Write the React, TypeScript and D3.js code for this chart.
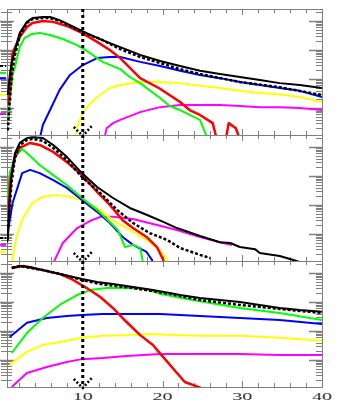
import React from "react";
import * as d3 from "d3";

type Pt = [number, number];

// x axis: ticks every 2, labels every 10, dotted cut at x = 10
const xTicks = d3.range(2, 40, 2);
const xLabels = [10, 20, 30, 40];
const cutX = 10;

// ---- top panel ----
const p1Black: Pt[] = [[0.6,2.8],[0.85,13.8],[1.1,38.9],[1.5,100],[2.1,389],[3.0,933],[3.7,1259],[5.0,1380],[5.9,1380],[7.1,1072],[8.4,724],[9.9,457],[11.3,302],[13.0,191],[14.7,126],[17.2,67.6],[19.7,41.7],[22.2,28.2],[24.7,19.1],[27.2,14.8],[29.7,11.7],[32.2,9.3],[34.7,7.2],[37.2,6.2],[40,4.9]];
const p1Dashed: Pt[] = [[0.6,0.17],[0.85,1.9],[1.1,13.8],[1.5,67.6],[2.1,302],[3.0,851],[3.7,1175],[5.0,1259],[5.9,1259],[7.1,1000],[8.4,676],[9.9,417],[12.2,240],[14.7,107],[17.2,57.5],[19.7,35.5],[22.2,21.9],[24.7,14.8],[29.7,7.9],[34.7,5.2],[40,2.8]];
const p1Red: Pt[] = [[0.7,1.26],[1.0,13.8],[1.2,79],[2.1,282],[3.0,617],[3.7,851],[5.0,1000],[6.3,933],[8.0,676],[9.9,389],[11.8,191],[13.4,100],[14.7,52.5],[17.2,10.7],[19.7,4.6],[22.2,1.6],[23.4,0.85],[24.7,0.575],[26.3,0.3],[27.0,0.05],[27.8,0.05],[28.3,0.3],[29.2,0.2],[30.0,0.05]];
const p1Green: Pt[] = [[0.6,0.39],[1.0,4.2],[1.2,13.8],[1.5,25.7],[2.1,126],[2.7,257],[3.6,355],[4.6,389],[5.9,331],[7.5,240],[9.3,148],[10.9,79],[12.5,38.9],[14.7,21.9],[15.9,11.7],[17.2,7.2],[19.7,2.2],[20.9,1.17],[22.2,0.85],[23.4,0.575],[24.7,0.39],[26.0,0.05]];
const p1Blue: Pt[] = [[4.4,0.05],[5.0,0.26],[5.9,0.85],[7.1,4.2],[8.4,13.8],[10.0,30.2],[11.8,52.5],[13.4,57.5],[14.7,57.5],[17.2,38.9],[19.7,28.2],[22.2,19.1],[24.7,13.8],[27.2,10.7],[29.7,7.9],[32.2,6.2],[34.7,4.9],[37.2,3.9],[40,2.4]];
const p1Yellow: Pt[] = [[8.8,0.05],[9.4,0.26],[10.0,0.68],[10.9,1.38],[11.8,2.4],[13.4,4.9],[14.7,6.2],[17.2,7.9],[19.7,7.9],[22.2,7.2],[24.7,5.8],[27.2,4.9],[29.7,3.9],[32.2,3.3],[34.7,3.0],[37.2,2.4],[40,1.6]];
const p1Magenta: Pt[] = [[12.5,0.05],[13.0,0.2],[13.8,0.3],[14.7,0.39],[17.2,0.72],[19.7,1.07],[22.2,1.26],[24.7,1.26],[27.2,1.26],[29.7,1.17],[32.2,1.07],[34.7,1.07],[37.2,1.0],[40,0.85]];
const p1Marks = [{ key: "black", v: 28.2 }, { key: "green", v: 16.2 }, { key: "blue", v: 10.7 }, { key: "yellow", v: 2.8 }, { key: "magenta", v: 0.62 }];

// ---- middle panel ----
const p2Black: Pt[] = [[0.6,0.62],[0.85,19.1],[1.1,126],[1.5,617],[2.1,1380],[3.0,2042],[3.7,2188],[5.0,2042],[6.3,1175],[8.0,457],[9.9,126],[11.8,41.7],[13.8,17.4],[15.9,7.9],[18.0,4.6],[20.1,2.6],[21.8,1.6],[24.7,0.85],[27.2,0.52],[28.5,0.49],[29.7,0.355],[31.6,0.3],[32.2,0.22],[34.7,0.174],[36.4,0.126],[37.6,0.1]];
const p2Dashed: Pt[] = [[0.5,0.52],[0.85,10],[1.1,72],[1.5,417],[2.1,1175],[3.0,1738],[3.7,1905],[5.0,1622],[6.3,933],[8.0,355],[9.9,93],[12.2,25.7],[14.3,6.8],[16.3,2.4],[18.4,1.07],[20.6,0.62],[22.2,0.33],[24.7,0.19],[26.0,0.148]];
const p2Red: Pt[] = [[0.7,4.6],[0.85,57.5],[1.5,457],[2.1,933],[3.4,1380],[4.6,1175],[6.3,676],[8.0,302],[9.9,107],[11.8,28.2],[13.4,10],[15.0,3.0],[16.3,1.6],[18.0,0.79],[19.3,0.355],[20.1,0.126],[20.3,0.08]];
const p2Green: Pt[] = [[0.5,19.1],[0.85,126],[1.5,457],[2.4,851],[3.0,617],[4.6,240],[6.3,107],[8.0,49],[9.9,17.4],[11.8,6.8],[13.4,2.6],[14.4,1.38],[15.3,0.355],[16.3,0.42],[17.2,0.33],[17.5,0.126],[17.7,0.08]];
const p2Blue: Pt[] = [[0.5,0.79],[1.2,11.7],[2.4,126],[3.4,162],[4.6,126],[6.3,72],[8.0,38.9],[9.9,14.8],[11.8,5.8],[13.4,2.4],[15.0,0.79],[16.3,0.42],[18.0,0.24],[18.7,0.126],[18.8,0.08]];
const p2Yellow: Pt[] = [[1.1,0.1],[1.7,0.79],[2.5,3.5],[3.7,11.7],[5.0,19.1],[6.8,21.9],[8.4,19.1],[9.9,14.8],[11.8,7.9],[13.8,3.0],[15.9,1.38],[18.0,0.62],[19.7,0.28],[20.6,0.126],[20.7,0.08]];
const p2Magenta: Pt[] = [[6.3,0.1],[6.8,0.19],[7.5,0.49],[9.3,1.6],[10.9,2.8],[12.2,3.9],[13.8,3.9],[16.3,3.3],[18.8,2.2],[21.8,1.38],[24.7,0.79],[27.2,0.52],[28.7,0.42]];
const p2Marks = [{ key: "black", v: 0.72 }, { key: "magenta", v: 0.42 }, { key: "yellow", v: 0.24 }];

// ---- bottom panel ----
const p3Black: Pt[] = [[1.1,1479],[2.1,1738],[3.4,1622],[5.0,1259],[7.1,933],[9.9,617],[11.8,490],[13.8,417],[16.3,331],[18.8,257],[20.9,204],[22.2,174],[24.7,138],[27.2,117],[29.7,100],[32.2,79],[34.7,61.7],[37.2,52.5],[40,45.7]];
const p3Dashed: Pt[] = [[1.1,1479],[2.1,1738],[5.0,1259],[7.1,933],[9.9,575],[12.2,417],[16.3,302],[20.9,191],[24.7,117],[29.7,79],[34.7,57.5],[40,41.7]];
const p3Red: Pt[] = [[1.1,1479],[2.5,1738],[5.0,1259],[7.1,933],[8.8,575],[10.5,302],[12.2,148],[13.8,61.7],[15.5,20.4],[17.2,7.2],[18.8,3.3],[20.1,1.26],[21.3,0.52],[22.8,0.174],[24.9,0.107],[25.3,0.08]];
const p3Green: Pt[] = [[1.1,1.74],[3.0,8.5],[5.0,28.2],[7.1,79],[9.3,174],[10.9,257],[13.0,302],[15.5,302],[18.0,282],[19.7,191],[22.2,141],[24.7,107],[29.7,61.7],[34.7,41.7],[40,24]];
const p3Blue: Pt[] = [[0.85,6.2],[3.0,19.1],[5.5,28.2],[8.0,33],[9.9,35.5],[12.5,38.9],[15.5,38.9],[19.7,38.9],[24.7,33],[29.7,28.2],[34.7,24],[40,17.4]];
const p3Yellow: Pt[] = [[0.85,0.68],[3.0,1.9],[5.0,3.3],[8.0,4.6],[9.9,5.8],[12.5,6.8],[15.5,7.2],[18.0,7.9],[22.2,7.2],[24.7,6.8],[29.7,6.8],[34.7,5.8],[40,4.6]];
const p3Magenta: Pt[] = [[1.1,0.117],[3.0,0.355],[5.5,0.575],[8.0,0.85],[9.9,1.07],[12.5,1.17],[15.5,1.38],[19.7,1.6],[24.7,1.6],[29.7,1.6],[34.7,1.48],[40,1.48]];

const colors: Record<string, string> = {
  black: "#000000",
  red: "#ff0000",
  green: "#00ff00",
  blue: "#0000ff",
  yellow: "#ffff00",
  magenta: "#ff00ff",
};

const panels = [
  { magenta: p1Magenta, yellow: p1Yellow, blue: p1Blue, green: p1Green, red: p1Red, dashed: p1Dashed, black: p1Black, marks: p1Marks },
  { magenta: p2Magenta, yellow: p2Yellow, blue: p2Blue, green: p2Green, red: p2Red, dashed: p2Dashed, black: p2Black, marks: p2Marks },
  { magenta: p3Magenta, yellow: p3Yellow, blue: p3Blue, green: p3Green, red: p3Red, dashed: p3Dashed, black: p3Black, marks: [] },
];

const width = 347;
const height = 415;
const left = 7;
const right = 322;
const panelTops = [9, 135, 261];
const panelH = 126;
const yDomain = [0.117, 2594];
const axisGray = "#808080";

const x = d3.scaleLinear().domain([0.5, 40]).range([left, right]);

const isDecade = (v: number) => Math.abs(Math.log10(v) - Math.round(Math.log10(v))) < 1e-6;

function Panel({ data, top, idx }: any) {
  const bottom = top + panelH;
  const y = d3.scaleLog().domain(yDomain).range([bottom, top]);
  const line = d3.line<Pt>().x((d) => x(d[0])).y((d) => y(d[1]));
  const yTicks = y.ticks();
  const cx = x(cutX);

  const curves = [
    { key: "magenta", w: 2 },
    { key: "yellow", w: 2 },
    { key: "blue", w: 2 },
    { key: "green", w: 2 },
    { key: "red", w: 2.5 },
  ];

  return (
    <g>
      <defs>
        <clipPath id={`clip${idx}`}>
          <rect x={left} y={top} width={right - left} height={panelH} />
        </clipPath>
      </defs>

      {/* log ticks, left crosses the axis, right points inward */}
      {yTicks.map((v, i) => {
        const yy = Math.round(y(v)) + 0.5;
        const major = isDecade(v);
        return (
          <g key={i} stroke={axisGray} strokeWidth={major ? 1.5 : 1}>
            <line x1={major ? 0 : 1} x2={major ? 14 : 12} y1={yy} y2={yy} />
            <line x1={right - (major ? 13 : 6)} x2={right} y1={yy} y2={yy} />
          </g>
        );
      })}

      {/* x ticks on top and bottom edges */}
      {xTicks.map((t) => {
        const xx = Math.round(x(t)) + 0.5;
        const len = t % 10 === 0 ? 6 : 4;
        return (
          <g key={t} stroke={axisGray}>
            <line x1={xx} x2={xx} y1={top} y2={top + len} />
            <line x1={xx} x2={xx} y1={bottom} y2={bottom - len} />
          </g>
        );
      })}

      <rect x={left + 0.5} y={top + 0.5} width={right - left} height={panelH} fill="none" stroke={axisGray} />

      <g clipPath={`url(#clip${idx})`} fill="none" strokeLinejoin="round">
        {curves.map((c) => (
          <path key={c.key} d={line(data[c.key]) || ""} stroke={colors[c.key]} strokeWidth={c.w} />
        ))}
        <path d={line(data.dashed) || ""} stroke="#000" strokeWidth={2.5} strokeDasharray="3,2" />
        <path d={line(data.black) || ""} stroke="#000" strokeWidth={2} />
      </g>

      {/* short marks just outside the left axis */}
      {data.marks.map((m: any, i: number) => (
        <line key={i} x1={0} x2={left - 1} y1={y(m.v)} y2={y(m.v)} stroke={colors[m.key]} strokeWidth={2} strokeDasharray={m.key === "black" ? "3,2" : undefined} />
      ))}

      {/* dotted arrow head at the cut */}
      <path
        d={`M${cx - 9},${bottom - 8} L${cx},${bottom + 1} L${cx + 9},${bottom - 9}`}
        fill="none"
        stroke="#000"
        strokeWidth={2.5}
        strokeDasharray="2,2"
      />
    </g>
  );
}

export default function App() {
  const cx = x(cutX);
  return (
    <svg
      width={width}
      height={height}
      style={{ position: "absolute", left: 0, top: 0, background: "#fff" }}
    >
      {panels.map((p, i) => (
        <Panel key={i} data={p} top={panelTops[i]} idx={i} />
      ))}

      <line
        x1={cx}
        x2={cx}
        y1={panelTops[0]}
        y2={panelTops[2] + panelH}
        stroke="#000"
        strokeWidth={3}
        strokeDasharray="3,3"
      />

      {xLabels.map((t) => (
        <text
          key={t}
          x={x(t)}
          y={400}
          textAnchor="middle"
          fontFamily="Liberation Serif"
          fontSize={11}
          fill="#333"
          textLength={20}
          lengthAdjust="spacingAndGlyphs"
        >
          {t}
        </text>
      ))}
    </svg>
  );
}
